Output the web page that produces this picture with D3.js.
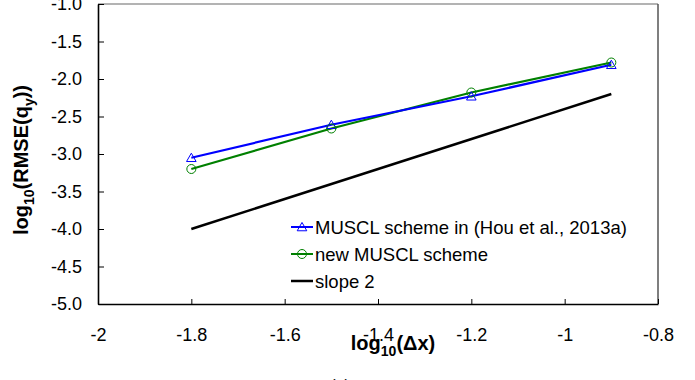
<!DOCTYPE html>
<html>
<head>
<meta charset="utf-8">
<script src="https://cdn.jsdelivr.net/npm/d3@7"></script>
<style>
  html, body { margin: 0; padding: 0; background: #fff; }
  svg { display: block; font-family: "Liberation Sans", Arial, sans-serif; }
</style>
</head>
<body>
<svg id="chart" width="695" height="380"></svg>
<script>
// ---- data ----
const xValues = [-1.8, -1.5, -1.2, -0.9];
const musclHou = [-3.05, -2.61, -2.23, -1.81];
const musclNew = [-3.2, -2.66, -2.18, -1.78];
const slopeX = [-1.8, -0.9];
const slopeY = [-4.0, -2.2];
const xTicks = [-2, -1.8, -1.6, -1.4, -1.2, -1, -0.8];
const yTicks = [-1.0, -1.5, -2.0, -2.5, -3.0, -3.5, -4.0, -4.5, -5.0];
const seriesNames = ["MUSCL scheme in (Hou et al., 2013a)", "new MUSCL scheme", "slope 2"];

// ---- layout ----
const svg = d3.select("#chart");
const L = 98, R = 658, T = 4, B = 304;
const x = d3.scaleLinear().domain([-2, -0.8]).range([L, R]);
const y = d3.scaleLinear().domain([-5, -1]).range([B, T]);

// plot frame (top/right grey)
svg.append("line").attr("x1", L).attr("x2", R).attr("y1", T).attr("y2", T)
  .attr("stroke", "#9a9a9a").attr("stroke-width", 1.5);
svg.append("line").attr("x1", R).attr("x2", R).attr("y1", T).attr("y2", B)
  .attr("stroke", "#555").attr("stroke-width", 1.5);

// axes
const xFmt = d => String(+d.toFixed(1));
const yFmt = d => d.toFixed(1);
const gx = svg.append("g").attr("transform", `translate(0,${B})`)
  .call(d3.axisBottom(x).tickValues(xTicks).tickFormat(xFmt)
    .tickSizeInner(-5).tickSizeOuter(0).tickPadding(24));
const gy = svg.append("g").attr("transform", `translate(${L},0)`)
  .call(d3.axisLeft(y).tickValues(yTicks).tickFormat(yFmt)
    .tickSizeInner(-6).tickSizeOuter(0).tickPadding(16));
[gx, gy].forEach(g => {
  g.select(".domain").attr("stroke", "#000").attr("stroke-width", 1.6);
  g.selectAll(".tick line").attr("stroke", "#000").attr("stroke-width", 1);
  g.selectAll(".tick text").attr("fill", "#000")
    .style("font-family", '"Liberation Sans", Arial, sans-serif').style("font-size", "18px");
});

// lines
const line = d3.line().x(d => x(d[0])).y(d => y(d[1]));
const houPts = xValues.map((v, i) => [v, musclHou[i]]);
const newPts = xValues.map((v, i) => [v, musclNew[i]]);
const slopePts = slopeX.map((v, i) => [v, slopeY[i]]);

svg.append("path").datum(slopePts).attr("d", line)
  .attr("fill", "none").attr("stroke", "#000").attr("stroke-width", 2.5);
svg.append("path").datum(newPts).attr("d", line)
  .attr("fill", "none").attr("stroke", "#008000").attr("stroke-width", 2.2);
svg.append("path").datum(houPts).attr("d", line)
  .attr("fill", "none").attr("stroke", "#0000ff").attr("stroke-width", 2.2);

const tri = d3.symbol().type(d3.symbolTriangle).size(40);
svg.selectAll(".tri").data(houPts).enter().append("path")
  .attr("d", tri).attr("transform", d => `translate(${x(d[0])},${y(d[1]) + 1})`)
  .attr("fill", "none").attr("stroke", "#0000ff").attr("stroke-width", 1);
svg.selectAll(".circ").data(newPts).enter().append("circle")
  .attr("cx", d => x(d[0])).attr("cy", d => y(d[1])).attr("r", 4.5)
  .attr("fill", "none").attr("stroke", "#008000").attr("stroke-width", 1);

// legend
const lg = svg.append("g");
const rowsY = [227, 254, 281];
const colors = ["#0000ff", "#008000", "#000"];
seriesNames.forEach((name, i) => {
  lg.append("line").attr("x1", 291).attr("x2", 313).attr("y1", rowsY[i]).attr("y2", rowsY[i])
    .attr("stroke", colors[i]).attr("stroke-width", i === 2 ? 2.5 : 2);
  if (i === 0) {
    lg.append("path").attr("d", tri).attr("transform", `translate(302,${rowsY[i] + 1})`)
      .attr("fill", "none").attr("stroke", colors[i]).attr("stroke-width", 1);
  } else if (i === 1) {
    lg.append("circle").attr("cx", 302).attr("cy", rowsY[i]).attr("r", 4.5)
      .attr("fill", "none").attr("stroke", colors[i]).attr("stroke-width", 1);
  }
  lg.append("text").attr("x", 315).attr("y", rowsY[i]).attr("dy", "0.36em")
    .style("font-size", "18.5px").attr("fill", "#000").text(name);
});

// axis titles
const xt = svg.append("text").attr("x", 393).attr("y", 350).attr("text-anchor", "middle")
  .style("font-size", "20px").style("font-weight", "bold").attr("fill", "#000");
xt.append("tspan").text("log");
xt.append("tspan").attr("dy", 6).style("font-size", "14px").text("10");
xt.append("tspan").attr("dy", -6).text("(Δx)");

const yt = svg.append("text").attr("transform", "translate(28,160) rotate(-90)")
  .attr("text-anchor", "middle")
  .style("font-size", "20px").style("font-weight", "bold").attr("fill", "#000");
yt.append("tspan").text("log");
yt.append("tspan").attr("dy", 6).style("font-size", "14px").text("10");
yt.append("tspan").attr("dy", -6).text("(RMSE(q");
yt.append("tspan").attr("dy", 6).style("font-size", "14px").text("y");
yt.append("tspan").attr("dy", -6).text("))");

// cropped caption
svg.append("text").attr("x", 340).attr("y", 391).attr("text-anchor", "middle")
  .style("font-size", "16px").attr("fill", "#000").text("(a)");
</script>
</body>
</html>
